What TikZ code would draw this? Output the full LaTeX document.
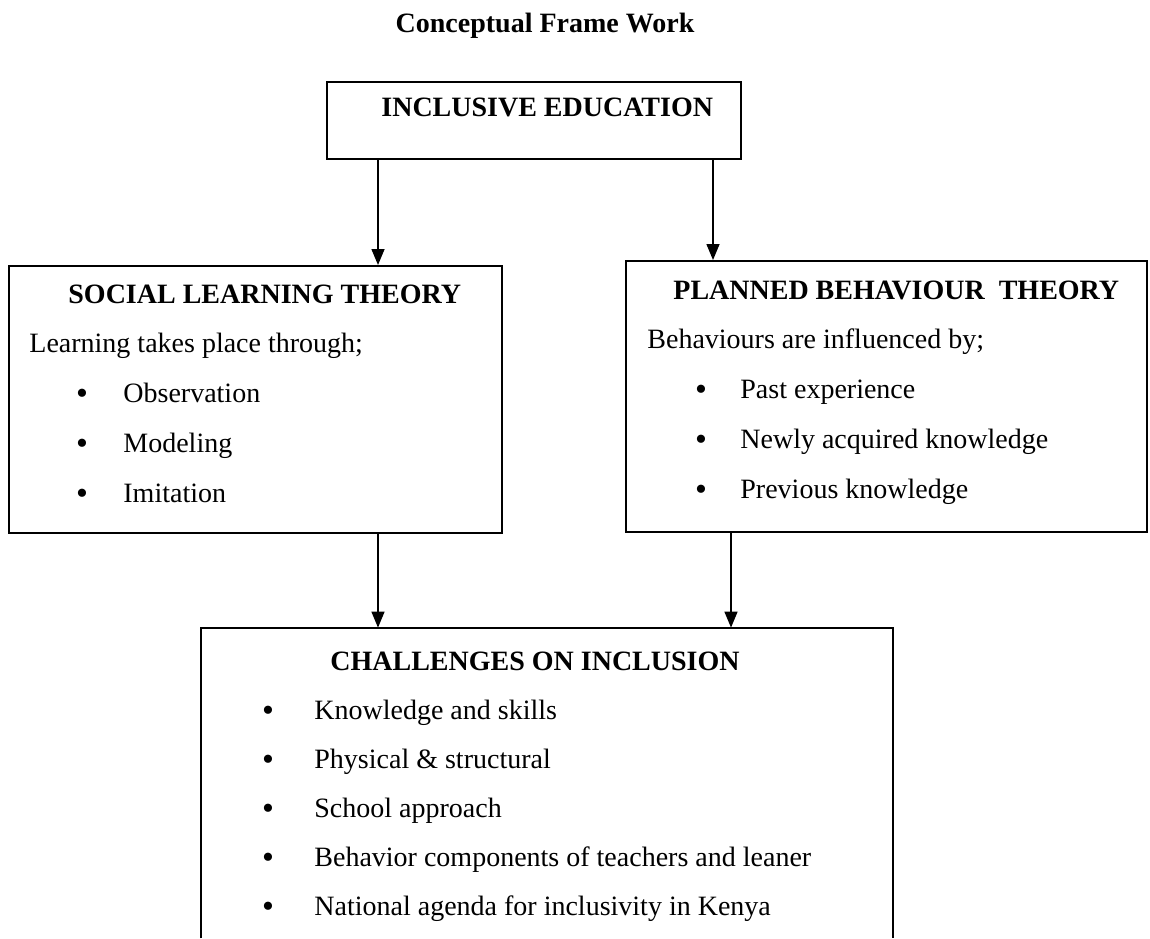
\documentclass[tikz,border=0pt]{standalone}
\usepackage{fontspec}
\setmainfont{Liberation Serif}
\usetikzlibrary{fit,arrows.meta}
\begin{document}
\begin{tikzpicture}[x=0.5pt,y=-0.5pt,
  box/.style={draw,line width=1pt,inner sep=0pt},
  openbox/.style={inner sep=0pt},
  arr/.style={line width=0.75pt,-{Triangle[width=6.5pt,length=8pt]}},
  hd/.style={anchor=base west,inner sep=0pt,font=\fontsize{14}{16}\selectfont\bfseries},
  tx/.style={anchor=base west,inner sep=0pt,font=\fontsize{14}{16}\selectfont},
  bul/.style={anchor=base,inner sep=0pt,yshift=-1pt,font=\fontsize{17}{19}\selectfont}]
\useasboundingbox (0,0) rectangle (1150,938);

% title
\node[hd,anchor=base] (title) at (545,32) {Conceptual Frame Work};

% boxes
\node[box,fit={(327,82) (741,159)}] (top) {};
\node[box,fit={(9,266) (502,533)}] (slt) {};
\node[box,fit={(626,261) (1147,532)}] (pbt) {};
\node[openbox,fit={(201,628) (893,938)}] (chl) {};
\draw[line width=1pt] (chl.south west) -- (chl.north west) -- (chl.north east) -- (chl.south east);

% top box text
\node[hd] (topt) at (381,116) {INCLUSIVE EDUCATION};

% social learning theory
\node[hd] (sltt) at (68,303) {SOCIAL LEARNING THEORY};
\node[tx] (slti) at (29,352) {Learning takes place through;};
\node[bul] (sb1) at (82,402) {\textbullet};
\node[tx] (s1) at (123,402) {Observation};
\node[bul] (sb2) at (82,452) {\textbullet};
\node[tx] (s2) at (123,452) {Modeling};
\node[bul] (sb3) at (82,502) {\textbullet};
\node[tx] (s3) at (123,502) {Imitation};

% planned behaviour theory
\node[hd] (pbtt) at (673,299) {PLANNED BEHAVIOUR\hspace{0.5em}THEORY};
\node[tx] (pbti) at (647,348) {Behaviours are influenced by;};
\node[bul] (pb1) at (701,398) {\textbullet};
\node[tx] (p1) at (740,398) {Past experience};
\node[bul] (pb2) at (701,448) {\textbullet};
\node[tx] (p2) at (740,448) {Newly acquired knowledge};
\node[bul] (pb3) at (701,498) {\textbullet};
\node[tx] (p3) at (740,498) {Previous knowledge};

% challenges
\node[hd] (chlt) at (330,670) {CHALLENGES ON INCLUSION};
\node[bul] (cb1) at (268,719) {\textbullet};
\node[tx] (c1) at (314,719) {Knowledge and skills};
\node[bul] (cb2) at (268,768) {\textbullet};
\node[tx] (c2) at (314,768) {Physical \& structural};
\node[bul] (cb3) at (268,817) {\textbullet};
\node[tx] (c3) at (314,817) {School approach};
\node[bul] (cb4) at (268,866) {\textbullet};
\node[tx] (c4) at (314,866) {Behavior components of teachers and leaner};
\node[bul] (cb5) at (268,915) {\textbullet};
\node[tx] (c5) at (314,915) {National agenda for inclusivity in Kenya};

% connectors
\coordinate (a1) at (378,0);
\coordinate (a2) at (713,0);
\coordinate (a3) at (378,0);
\coordinate (a4) at (731,0);
\draw[arr] (top.south -| a1) -- (slt.north -| a1);
\draw[arr] (top.south -| a2) -- (pbt.north -| a2);
\draw[arr] (slt.south -| a3) -- (chl.north -| a3);
\draw[arr] (pbt.south -| a4) -- (chl.north -| a4);
\end{tikzpicture}
\end{document}
